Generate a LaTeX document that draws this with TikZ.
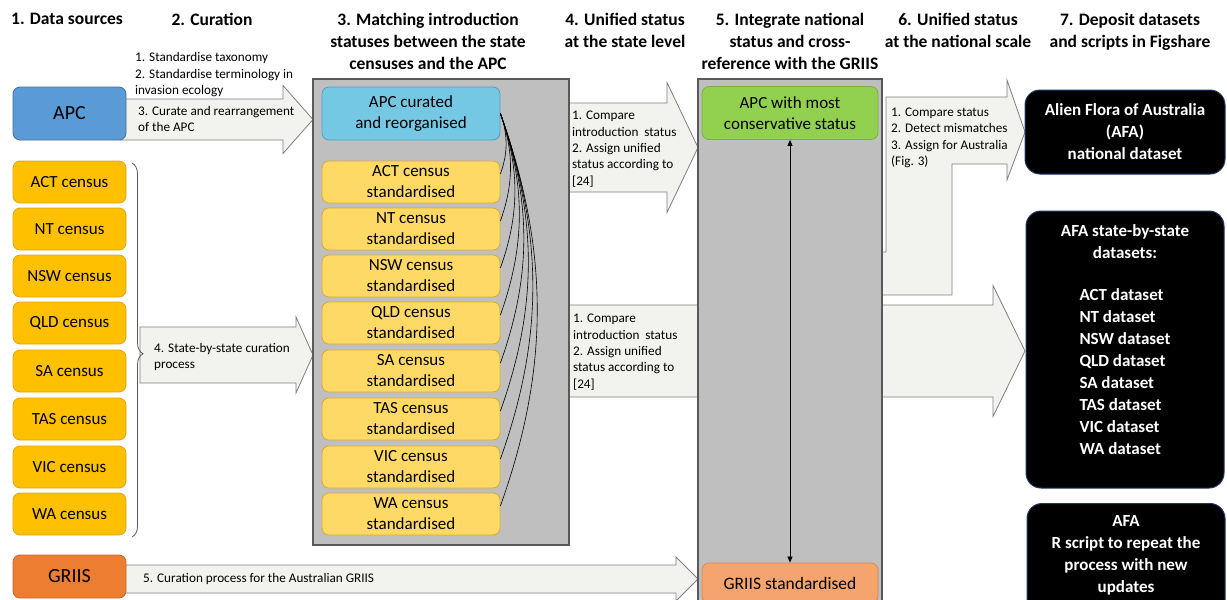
\documentclass[tikz,border=0pt]{standalone}
\usepackage{fontspec}
\setmainfont{Carlito}
\usetikzlibrary{arrows.meta,decorations.pathreplacing}

\definecolor{apcFill}{HTML}{5B9BD5}
\definecolor{apcLine}{HTML}{41719C}
\definecolor{censusFill}{HTML}{FFC000}
\definecolor{censusLine}{HTML}{D9A620}
\definecolor{stdFill}{HTML}{FFD966}
\definecolor{stdLine}{HTML}{D6AA30}
\definecolor{cyanFill}{HTML}{75C8E3}
\definecolor{cyanLine}{HTML}{4FA0C2}
\definecolor{greenFill}{HTML}{92D050}
\definecolor{greenLine}{HTML}{79B040}
\definecolor{griisFill}{HTML}{ED7D31}
\definecolor{griisLine}{HTML}{C8672A}
\definecolor{griisStdFill}{HTML}{F4A46C}
\definecolor{griisStdLine}{HTML}{D88A52}
\definecolor{panelFill}{HTML}{BFBFBF}
\definecolor{panelLine}{HTML}{595959}
\definecolor{arrowFill}{HTML}{F2F2EE}
\definecolor{arrowLine}{HTML}{7F7F7F}
\definecolor{navyLine}{HTML}{1F3864}

% block arrow: start x, tip x, centre y, body half height, head half height, head length
\newcommand\blockarr[6]{%
  \draw[blockarrow] (#1,#3-#4) -- (#2-#6,#3-#4) -- (#2-#6,#3-#5) -- (#2,#3)
    -- (#2-#6,#3+#5) -- (#2-#6,#3+#4) -- (#1,#3+#4) -- cycle;}

\begin{document}
\begin{tikzpicture}[x=1pt,y=-1pt,
  hdr/.style={font=\bfseries\fontsize{17.5}{22}\selectfont, align=center, anchor=north, inner sep=0pt},
  note/.style={font=\fontsize{13.2}{16.4}\selectfont, align=left, anchor=north west, inner sep=0pt},
  rbox/.style={draw, rounded corners=7pt, line width=0.8pt, align=center, inner sep=1pt},
  srcbox/.style={rbox, minimum width=113pt, minimum height=42pt, font=\fontsize{17}{21}\selectfont},
  census/.style={srcbox, fill=censusFill, draw=censusLine},
  stdbox/.style={rbox, minimum width=178pt, minimum height=42pt, fill=stdFill, draw=stdLine, font=\fontsize{17}{21}\selectfont},
  darkbox/.style={draw=navyLine, fill=black, rounded corners=15pt, line width=1pt, text=white, font=\bfseries\fontsize{17}{22}\selectfont, align=center},
  darktext/.style={text=white, font=\bfseries\fontsize{17}{22}\selectfont, align=center, inner sep=0pt},
  panel/.style={fill=panelFill, draw=panelLine, line width=1.2pt, inner sep=0pt},
  blockarrow/.style={fill=arrowFill, draw=arrowLine, line width=0.8pt, line join=miter},
  link/.style={draw=black, line width=0.6pt},
]
\useasboundingbox (0,0) rectangle (1227,600);
\clip (0,0) rectangle (1227,600);

% ---------- block arrows (behind the panels) ----------
\blockarr{560}{698}{147.5}{44.5}{65}{31}
\blockarr{560}{1025}{351}{46}{65.5}{32}
\draw[blockarrow] (886,97) -- (1007,97) -- (1007,80) -- (1025,132) -- (1007,180)
  -- (1007,164) -- (952,164) -- (952,295) -- (870,295) -- (870,252) -- (886,252) -- cycle;
\blockarr{120}{313}{119.5}{20.5}{34}{30}
\blockarr{140}{313}{355}{28}{38}{17}
\blockarr{120}{698}{579}{14}{22}{22}

% ---------- grey panels ----------
\node[panel, minimum width=256pt, minimum height=466pt] (panel3) at (441,312) {};
\node[panel, minimum width=184pt, minimum height=531pt] (panel5) at (790,344.5) {};

% ---------- data sources ----------
\node[srcbox, fill=apcFill, draw=apcLine, minimum height=53pt, font=\fontsize{20}{24}\selectfont] (apc) at (69.5,113.5) {APC};
\node[census] (cACT) at (69.5,182) {ACT census};
\node[census] (cNT)  at (69.5,229) {NT census};
\node[census] (cNSW) at (69.5,276) {NSW census};
\node[census] (cQLD) at (69.5,323) {QLD census};
\node[census] (cSA)  at (69.5,371) {SA census};
\node[census] (cTAS) at (69.5,419) {TAS census};
\node[census] (cVIC) at (69.5,467) {VIC census};
\node[census] (cWA)  at (69.5,514) {WA census};
\node[srcbox, fill=griisFill, draw=griisLine, minimum height=43pt, font=\fontsize{20}{24}\selectfont] (griis) at (69.5,576.5) {GRIIS};

\draw[draw=panelLine, line width=0.8pt, decorate, decoration={brace, amplitude=11pt, aspect=0.51}] (132,163) -- (132,537);

% ---------- matched datasets ----------
\node[rbox, fill=cyanFill, draw=cyanLine, minimum width=178pt, minimum height=53pt, font=\fontsize{17}{20.5}\selectfont] (apcc) at (411,113.5) {APC curated\\and reorganised};
\node[stdbox] (sACT) at (411,182) {ACT census\\standardised};
\node[stdbox] (sNT)  at (411,229) {NT census\\standardised};
\node[stdbox] (sNSW) at (411,276) {NSW census\\standardised};
\node[stdbox] (sQLD) at (411,323) {QLD census\\standardised};
\node[stdbox] (sSA)  at (411,371) {SA census\\standardised};
\node[stdbox] (sTAS) at (411,419) {TAS census\\standardised};
\node[stdbox] (sVIC) at (411,467) {VIC census\\standardised};
\node[stdbox] (sWA)  at (411,514) {WA census\\standardised};

\foreach \n/\d in {ACT/61,NT/108,NSW/155,QLD/202,SA/250,TAS/298,VIC/346,WA/393}
  \draw[link] (apcc.east) .. controls +(0.125*\d,0.35*\d) and +(0.125*\d,-0.35*\d) .. ([yshift=8pt]s\n.east);

% ---------- national integration ----------
\node[rbox, fill=greenFill, draw=greenLine, minimum width=176pt, minimum height=53pt, font=\fontsize{17}{21}\selectfont] (apcg) at (790,113) {APC with most\\conservative status};
\node[rbox, fill=griisStdFill, draw=griisStdLine, minimum width=176pt, minimum height=40pt, font=\fontsize{17.5}{21}\selectfont] (griisstd) at (790,583) {GRIIS standardised};
\draw[{Triangle[length=6pt,width=5pt]}-{Triangle[length=6pt,width=5pt]}, line width=0.7pt] (apcg.south) -- (griisstd.north);

% ---------- Figshare deposits ----------
\node[darkbox, minimum width=200pt, minimum height=84pt] (afaNat) at (1125,132) {Alien Flora of Australia\\(AFA)\\national dataset};
\node[darkbox, minimum width=198pt, minimum height=277pt] (afaState) at (1125,349.5) {};
\node[darktext] (afaStateTxt) at (1125,343) {AFA state-by-state\\datasets:\\[20pt]\begin{tabular}[t]{@{}l@{}}ACT dataset\\NT dataset\\NSW dataset\\QLD dataset\\SA dataset\\TAS dataset\\VIC dataset\\WA dataset\end{tabular}};
\node[darkbox, minimum width=198pt, minimum height=120pt, anchor=north] (afaR) at (1126,503) {};
\node[darktext] (afaRTxt) at (1126,555.5) {AFA\\R script to repeat the\\process with new\\updates};

% ---------- arrow labels ----------
\node[note] (n1a) at (135,52.5) {1. Standardise taxonomy\\2. Standardise terminology in\\invasion ecology};
\node[note] (n1b) at (138,106) {3. Curate and rearrangement\\of the APC};
\node[note] (n2) at (154,343) {4. State-by-state curation\\process};
\node[note] (n4a) at (572,111) {1. Compare\\introduction\ \ status\\2. Assign unified\\status according to\\{[24]}};
\node[note] (n4b) at (573,314) {1. Compare\\introduction\ \ status\\2. Assign unified\\status according to\\{[24]}};
\node[note] (n6) at (891,107.5) {1. Compare status\\2. Detect mismatches\\3. Assign for Australia\\(Fig. 3)};
\node[note, anchor=west] (n5) at (143,579) {5. Curation process for the Australian GRIIS};

% ---------- column headings ----------
\node[hdr] (h1) at (67,13) {1. Data sources};
\node[hdr] (h2) at (212,13) {2. Curation};
\node[hdr] (h3) at (428,13) {3. Matching introduction\\statuses between the state\\censuses and the APC};
\node[hdr] (h4) at (625,13) {4. Unified status\\at the state level};
\node[hdr] (h5) at (790,13) {5. Integrate national\\status and cross-\\reference with the GRIIS};
\node[hdr] (h6) at (958,13) {6. Unified status\\at the national scale};
\node[hdr] (h7) at (1130,13) {7. Deposit datasets\\and scripts in Figshare};
\end{tikzpicture}
\end{document}
